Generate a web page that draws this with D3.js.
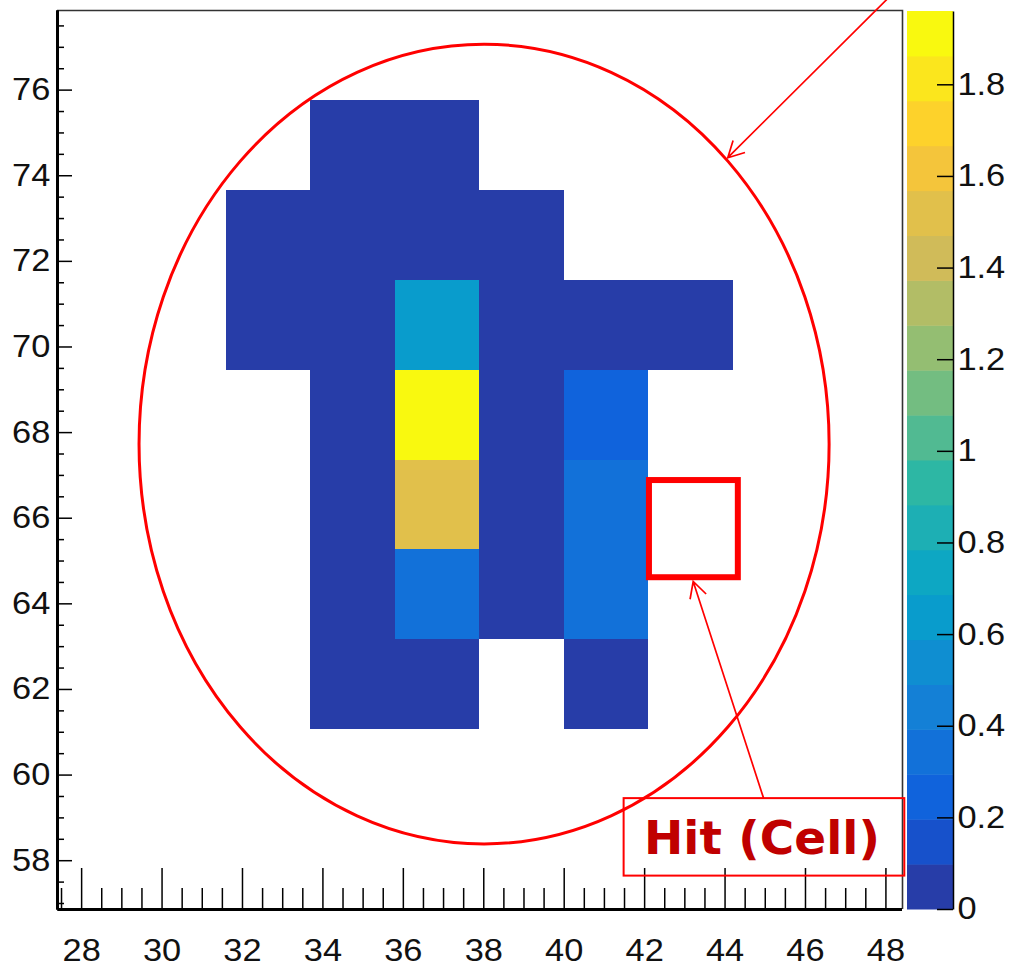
<!DOCTYPE html>
<html>
<head>
<meta charset="utf-8">
<script src="https://cdn.jsdelivr.net/npm/d3@7"></script>
<style>
  html, body { margin: 0; padding: 0; background: #fff; }
  svg { display: block; }
</style>
</head>
<body>
<svg id="chart" width="1011" height="967"></svg>
<script>
// ---- histogram binning (cell edges) ----
const xEdges = [27.4, 29.5, 31.6, 33.7, 35.8, 37.9, 40.0, 42.1, 44.2, 46.3, 48.4];
const yEdges = [56.86, 58.96, 61.06, 63.16, 65.26, 67.36, 69.46, 71.56, 73.66, 75.76, 77.86];

// ---- filled cells: column index, row index, content ----
const hitCol = [3, 4,
                2, 3, 4, 5,
                2, 3, 4, 5, 6, 7,
                3, 4, 5, 6,
                3, 4, 5, 6,
                3, 4, 5, 6,
                3, 4, 6];
const hitRow = [8, 8,
                7, 7, 7, 7,
                6, 6, 6, 6, 6, 6,
                5, 5, 5, 5,
                4, 4, 4, 4,
                3, 3, 3, 3,
                2, 2, 2];
const hitValue = [0.05, 0.05,
                  0.05, 0.05, 0.05, 0.05,
                  0.05, 0.05, 0.64, 0.05, 0.05, 0.05,
                  0.05, 1.96, 0.05, 0.25,
                  0.05, 1.52, 0.05, 0.36,
                  0.05, 0.38, 0.05, 0.36,
                  0.05, 0.05, 0.05];

// ---- tick labels ----
const xMajor = [28, 30, 32, 34, 36, 38, 40, 42, 44, 46, 48];
const yMajor = [58, 60, 62, 64, 66, 68, 70, 72, 74, 76];
const zTicks = [0, 0.2, 0.4, 0.6, 0.8, 1.0, 1.2, 1.4, 1.6, 1.8];

// ---- annotation (in axis units) ----
const ringCenter = [38.02, 67.72];
const ringRadius = [8.58, 9.34];
const cellBoxX = [42.12, 44.33];
const cellBoxY = [64.61, 66.88];
const labelBoxX = [41.49, 48.47];
const labelBoxY = [57.64, 59.45];
const labelText = "Hit (Cell)";
const labelAt = [44.93, 58.15];
const arrowTop = { from: [48.22, 78.28], to: [44.08, 74.41] };
const arrowCell = { from: [44.97, 59.45], to: [43.22, 64.51] };

// ---- bird palette (20 contour levels) ----
const birdStops = [0.0, 0.125, 0.25, 0.375, 0.5, 0.625, 0.75, 0.875, 1.0];
const birdR = [0.2082, 0.0592, 0.0780, 0.0232, 0.1802, 0.5301, 0.8186, 0.9956, 0.9764];
const birdG = [0.1664, 0.3599, 0.5041, 0.6419, 0.7178, 0.7492, 0.7328, 0.7862, 0.9832];
const birdB = [0.5293, 0.8684, 0.8385, 0.7914, 0.6425, 0.4662, 0.3499, 0.1968, 0.0539];
const nLevels = 20;

const gradient = d3.scaleLinear()
  .domain(birdStops)
  .range(birdStops.map((s, i) => d3.rgb(birdR[i] * 255, birdG[i] * 255, birdB[i] * 255)))
  .interpolate(d3.interpolateRgb);
const bandColors = d3.range(nLevels).map(i => {
  const k = Math.floor((i + 0.99) * 255 / nLevels);
  return d3.rgb(gradient(k / 255)).formatHex();
});

// ---- scales ----
const x = d3.scaleLinear().domain([xEdges[0], xEdges[xEdges.length - 1]]).range([57, 901.5]);
const y = d3.scaleLinear().domain([yEdges[0], yEdges[yEdges.length - 1]]).range([909, 10]);
const zMax = d3.max(hitValue);
const z = d3.scaleLinear().domain([0, zMax]).range([909, 11]);
const colour = d3.scaleQuantize().domain([0, zMax]).range(bandColors);

const svg = d3.select("#chart");
svg.append("rect").attr("width", 1011).attr("height", 967).attr("fill", "#fff");

// ---- cells ----
const cells = hitValue.map((v, i) => ({ c: hitCol[i], r: hitRow[i], v }));
svg.append("g").selectAll("rect").data(cells).join("rect")
  .attr("x", d => x(xEdges[d.c]))
  .attr("y", d => y(yEdges[d.r + 1]))
  .attr("width", d => x(xEdges[d.c + 1]) - x(xEdges[d.c]))
  .attr("height", d => y(yEdges[d.r]) - y(yEdges[d.r + 1]))
  .attr("fill", d => colour(d.v))
  .attr("shape-rendering", "crispEdges");

// ---- frame (top and right) ----
svg.append("path")
  .attr("d", `M${x.range()[0]},10.5 H902.5 V${y.range()[0]}`)
  .attr("fill", "none").attr("stroke", "#333").attr("stroke-width", 1.6);

const labelFont = "'Liberation Sans', Arial, Helvetica, sans-serif";
function styleAxis(g, width) {
  g.select(".domain").attr("stroke", "#000").attr("stroke-width", width);
  g.selectAll(".tick line").attr("stroke", "#000").attr("stroke-width", 1.5);
  g.selectAll("text")
    .attr("font-family", labelFont)
    .attr("font-size", 31)
    .attr("fill", "#111")
    .attr("transform", "scale(1.11,1)");
}

// ---- x axis ----
const xMinor = d3.range(27.5, 48.5, 0.5).filter(v => !xMajor.includes(v));
svg.append("g").attr("transform", `translate(0,${y.range()[0]})`)
  .call(d3.axisBottom(x).tickValues(xMinor).tickSize(-21).tickSizeOuter(0).tickFormat(""))
  .call(g => styleAxis(g, 3));
svg.append("g").attr("transform", `translate(0,${y.range()[0]})`)
  .call(d3.axisBottom(x).tickValues(xMajor).tickSize(-41).tickSizeOuter(0).tickPadding(30).tickFormat(d3.format("d")))
  .call(g => styleAxis(g, 3));

// ---- y axis ----
const yMinor = d3.range(57, 78, 0.5).filter(v => !yMajor.includes(v));
svg.append("g").attr("transform", `translate(${x.range()[0]},0)`)
  .call(d3.axisLeft(y).tickValues(yMinor).tickSize(-7).tickSizeOuter(0).tickFormat(""))
  .call(g => styleAxis(g, 3));
svg.append("g").attr("transform", `translate(${x.range()[0]},0)`)
  .call(d3.axisLeft(y).tickValues(yMajor).tickSize(-15).tickSizeOuter(0).tickPadding(6).tickFormat(d3.format("d")))
  .call(g => styleAxis(g, 3));

// ---- colour bar ----
const barLeft = 907, barRight = 953;
svg.append("g").selectAll("rect").data(d3.range(nLevels)).join("rect")
  .attr("x", barLeft)
  .attr("y", i => z((i + 1) * zMax / nLevels))
  .attr("width", barRight - barLeft)
  .attr("height", i => z(i * zMax / nLevels) - z((i + 1) * zMax / nLevels) + 0.5)
  .attr("fill", i => bandColors[i]);
svg.append("g").attr("transform", `translate(${barRight},0)`)
  .call(d3.axisRight(z).tickValues(zTicks).tickSize(-16).tickSizeOuter(0).tickPadding(4)
    .tickFormat(d => String(+d.toFixed(1))))
  .call(g => styleAxis(g, 1.5));

// ---- annotations ----
const red = "#ff0000";
const ann = svg.append("g").attr("fill", "none").attr("stroke", red);

ann.append("ellipse")
  .attr("cx", x(ringCenter[0])).attr("cy", y(ringCenter[1]))
  .attr("rx", x(ringCenter[0] + ringRadius[0]) - x(ringCenter[0]))
  .attr("ry", y(ringCenter[1] - ringRadius[1]) - y(ringCenter[1]))
  .attr("stroke-width", 3);

ann.append("rect")
  .attr("x", x(cellBoxX[0])).attr("y", y(cellBoxY[1]))
  .attr("width", x(cellBoxX[1]) - x(cellBoxX[0]))
  .attr("height", y(cellBoxY[0]) - y(cellBoxY[1]))
  .attr("stroke-width", 6);

ann.append("rect")
  .attr("x", x(labelBoxX[0])).attr("y", y(labelBoxY[1]))
  .attr("width", x(labelBoxX[1]) - x(labelBoxX[0]))
  .attr("height", y(labelBoxY[0]) - y(labelBoxY[1]))
  .attr("stroke-width", 2);

function arrow(a) {
  const x0 = x(a.from[0]), y0 = y(a.from[1]);
  const x1 = x(a.to[0]), y1 = y(a.to[1]);
  const ang = Math.atan2(y0 - y1, x0 - x1);
  const len = 18, half = 28 * Math.PI / 180;
  const w1 = [x1 + len * Math.cos(ang - half), y1 + len * Math.sin(ang - half)];
  const w2 = [x1 + len * Math.cos(ang + half), y1 + len * Math.sin(ang + half)];
  ann.append("path")
    .attr("d", `M${x0},${y0} L${x1},${y1} M${w1[0]},${w1[1]} L${x1},${y1} L${w2[0]},${w2[1]}`)
    .attr("stroke-width", 1.7);
}
arrow(arrowTop);
arrow(arrowCell);

svg.append("text")
  .attr("x", x(labelAt[0])).attr("y", y(labelAt[1]))
  .attr("text-anchor", "middle")
  .attr("font-family", "'DejaVu Sans', sans-serif")
  .attr("font-weight", "bold")
  .attr("font-size", 47)
  .attr("fill", "#c00000")
  .text(labelText);
</script>
</body>
</html>
